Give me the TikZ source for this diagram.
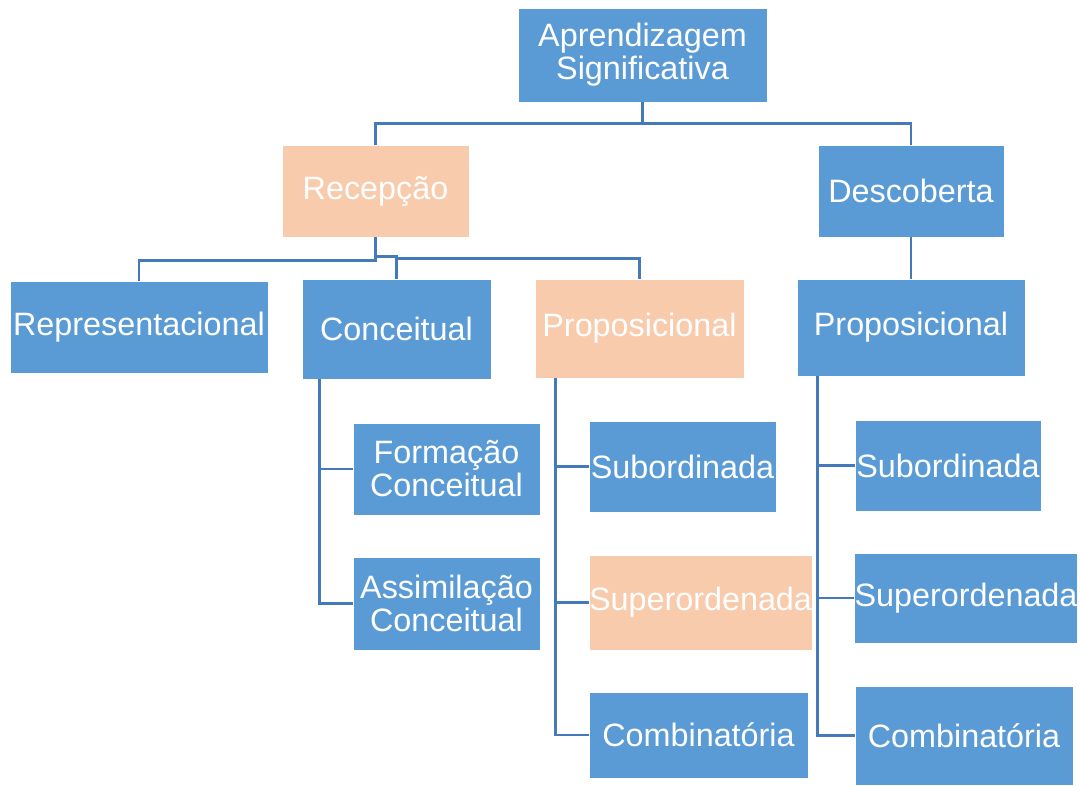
\documentclass[tikz,border=0pt]{standalone}
\usepackage{fontspec}
\setmainfont{Liberation Sans}
\usetikzlibrary{positioning}
\definecolor{blu}{RGB}{91,155,213}
\definecolor{pch}{RGB}{248,203,173}
\definecolor{lnk}{RGB}{68,122,186}
\tikzset{
	blk/.style={rectangle, fill=blu, draw=white, line width=0.6pt, text=white, inner sep=0pt, align=center,
		font=\fontsize{23}{23.5}\selectfont},
	hot/.style={blk, fill=pch},
	sz/.style 2 args={minimum width=#1*0.025cm, minimum height=#2*0.025cm},
	lnkline/.style={draw=lnk, line width=1.8pt}
}
\begin{document}
\begin{tikzpicture}[x=0.025cm, y=-0.025cm]
			\useasboundingbox (0,0) rectangle (1080,785);
			% top levels
			\node[blk, sz={249}{94}] (root) at (642.5,55){Aprendizagem\\Significativa};
			\node[hot, sz={187}{92}] (recep) at (375.5,191){Recepção};
			\node[blk, sz={186}{92}] (desc) at (911,191){Descoberta};
			\node[blk, sz={258}{92}] (rep) at (139,327){Representacional};
			\node[blk, sz={189}{100}] (conc) at (396.5,329){Conceitual};
			\node[hot, sz={209}{99}] (propA) at (639.5,328.5){Proposicional};
			\node[blk, sz={228}{97}] (propB) at (911,327.5){Proposicional};
			% leaves
			\node[blk, sz={187}{92}] (form) at (446.5,469){Formação\\Conceitual};
			\node[blk, sz={187}{93}] (assim) at (446.5,603.5){Assimilação\\Conceitual};
			\node[blk, sz={187}{91}] (subA) at (682.5,466.5){Subordinada};
			\node[hot, sz={223}{95}] (supA) at (700.5,602.5){Superordenada};
			\node[blk, sz={219}{86}] (combA) at (698.5,735){Combinatória};
			\node[blk, sz={186}{91}] (subB) at (948,465.5){Subordinada};
			\node[blk, sz={222}{90}] (supB) at (966,598){Superordenada};
			\node[blk, sz={218}{99}] (combB) at (964,735.5){Combinatória};
			% connectors
			\foreach\x in {recep,desc}{
				\draw[lnkline] (root.south) -- ++(0,21) -| (\x.north);
			}
			\draw[lnkline] (recep.south) -- ++(0,23) -| (rep.north);
			\draw[lnkline] (recep.south) ++(0,19) -| (conc.north);
			\draw[lnkline] (conc.north) ++(0,-20) -| (propA.north);
			\draw[lnkline] (desc) to (propB);
			\foreach\x in {form,assim}{
				\draw[lnkline] (conc.south west) ++(18,0) |- (\x.west);
			}
			\foreach\x in {subA,supA,combA}{
				\draw[lnkline] (propA.south west) ++(21,0) |- (\x.west);
			}
			\foreach\x in {subB,supB,combB}{
				\draw[lnkline] (propB.south west) ++(21,0) |- (\x.west);
			}
		\end{tikzpicture}
\end{document}
